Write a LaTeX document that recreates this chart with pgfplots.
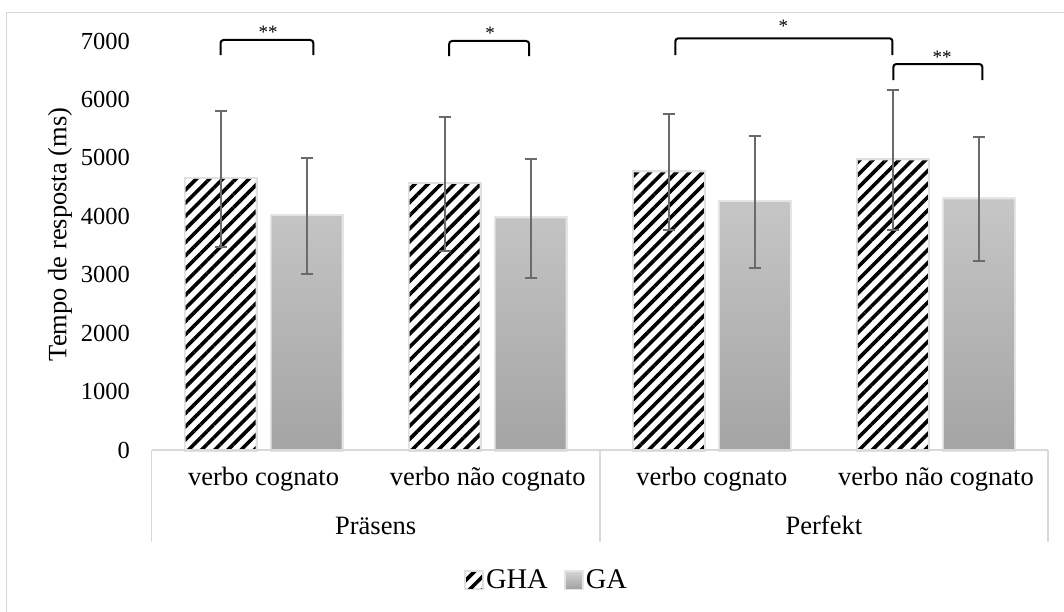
\documentclass[border=0pt]{standalone}
\usepackage{pgfplots}
\usepackage{pgfplotstable}
\pgfplotsset{compat=1.18}
\usepackage{fontspec}
\setmainfont{Liberation Serif}
\usetikzlibrary{patterns.meta}
\definecolor{framegray}{HTML}{D9D9D9}
\definecolor{errgray}{HTML}{6A6A6A}
\definecolor{gatop}{HTML}{C6C6C6}
\definecolor{gabot}{HTML}{A4A4A4}

\pgfplotstableread{
x y e
0 4640 1165
1 4552 1140
2 4752 995
3 4958 1200
}\gha
\pgfplotstableread{
x y e
0 4005 990
1 3965 1015
2 4244 1125
3 4290 1060
}\ga

\begin{document}
\begin{tikzpicture}[x=1bp,y=1bp]
\useasboundingbox (0,0) rectangle (1064,612);
\fill[white] (0,0) rectangle (1064,612);
\draw[framegray, line width=1.5bp] (6.5,0) -- (6.5,599.7) -- (1064,599.7);
\begin{axis}[
  at={(151.5bp,162bp)}, anchor=south west,
  scale only axis, width=896.5bp, height=409bp,
  xmin=-0.5, xmax=3.5, ymin=0, ymax=7000,
  clip=false,
  axis line style={draw=none},
  tick style={draw=none}, major tick length=0pt,
  xtick={0,1,2,3},
  xticklabels={verbo cognato, verbo não cognato, verbo cognato, verbo não cognato},
  xticklabel style={anchor=base, inner sep=0pt, yshift=-36bp, font=\fontsize{26.5bp}{30bp}\selectfont},
  ytick={0,1000,...,7000},
  yticklabel style={anchor=east, inner sep=0pt, xshift=-21.5bp, font=\fontsize{24.5bp}{28bp}\selectfont},
  /pgf/number format/assume math mode=true,
  /pgf/number format/1000 sep={},
  ylabel={Tempo de resposta (ms)},
  ylabel style={at={(axis description cs:-0.102,0.527)}, anchor=center, font=\fontsize{26.5bp}{30bp}\selectfont},
  legend style={at={(axis description cs:0.4406,-0.318)}, anchor=center, draw=none, fill=none,
    font=\fontsize{28.5bp}{32bp}\selectfont, nodes={inner sep=2bp},
    /tikz/every even column/.append style={column sep=14bp}},
  legend columns=2,
]
\addplot[ybar, bar width=0.3125, bar shift=-0.192, draw=none,
  preaction={draw=black!12, line width=4bp}, preaction={fill=white},
  pattern={Lines[angle=45,distance=9.3bp,line width=3.6bp]},
  legend image code/.code={\fill[pattern={Lines[angle=45,distance=9.3bp,line width=3.6bp]}] (0bp,-8bp) rectangle (16bp,8bp);}]
  table[x=x,y=y]{\gha};
\addlegendentry{GHA}
\addplot[ybar, bar width=0.3125, bar shift=0.192, draw=none,
  preaction={draw=black!10, line width=4bp},
  top color=gatop, bottom color=gabot,
  legend image code/.code={\fill[top color=gatop!80!white, bottom color=gabot] (0bp,-8bp) rectangle (16bp,8bp);}]
  table[x=x,y=y]{\ga};
\addlegendentry{GA}
\addplot[draw=none, mark=none, forget plot,
  error bars/.cd, y dir=both, y explicit,
  error bar style={draw=errgray, line width=2bp},
  error mark options={draw=errgray, line width=2bp, mark size=6bp, rotate=90}]
  table[x expr=\thisrow{x}-0.192, y=y, y error=e]{\gha};
\addplot[draw=none, mark=none, forget plot,
  error bars/.cd, y dir=both, y explicit,
  error bar style={draw=errgray, line width=2bp},
  error mark options={draw=errgray, line width=2bp, mark size=6bp, rotate=90}]
  table[x expr=\thisrow{x}+0.192, y=y, y error=e]{\ga};
% x axis line and category separators
\draw[framegray, line width=1.5bp] (axis cs:-0.5,0) -- (axis cs:3.5,0);
\draw[framegray, line width=1.5bp] (axis cs:-0.5,0) -- ([yshift=-92bp]axis cs:-0.5,0);
\draw[framegray, line width=1.5bp] (axis cs:1.5,0) -- ([yshift=-92bp]axis cs:1.5,0);
\draw[framegray, line width=1.5bp] (axis cs:3.5,0) -- ([yshift=-92bp]axis cs:3.5,0);
\node[anchor=base, inner sep=0pt, font=\fontsize{26.5bp}{30bp}\selectfont] at ([yshift=-85bp]axis cs:0.5,0) {Präsens};
\node[anchor=base, inner sep=0pt, font=\fontsize{26.5bp}{30bp}\selectfont] at ([yshift=-85bp]axis cs:2.5,0) {Perfekt};
% significance brackets
\begin{scope}[line width=2bp, rounded corners=3bp]
\draw (axis cs:-0.192,6760) -- (axis cs:-0.192,7017) -- (axis cs:0.222,7017) -- (axis cs:0.222,6760);
\draw (axis cs:0.828,6743) -- (axis cs:0.828,7000) -- (axis cs:1.185,7000) -- (axis cs:1.185,6743);
\draw (axis cs:1.837,6760) -- (axis cs:1.837,7046) -- (axis cs:2.806,7046) -- (axis cs:2.806,6760);
\draw (axis cs:2.810,6332) -- (axis cs:2.810,6606) -- (axis cs:3.207,6606) -- (axis cs:3.207,6332);
\end{scope}
\node[anchor=base, inner sep=0pt, font=\fontsize{19bp}{22bp}\selectfont] at ([yshift=1bp]axis cs:0.020,7017) {**};
\node[anchor=base, inner sep=0pt, font=\fontsize{19bp}{22bp}\selectfont] at ([yshift=1bp]axis cs:1.011,7000) {*};
\node[anchor=base, inner sep=0pt, font=\fontsize{19bp}{22bp}\selectfont] at ([yshift=6bp]axis cs:2.319,7046) {*};
\node[anchor=base, inner sep=0pt, font=\fontsize{19bp}{22bp}\selectfont] at ([yshift=1bp]axis cs:3.028,6606) {**};
\end{axis}
\end{tikzpicture}
\end{document}
